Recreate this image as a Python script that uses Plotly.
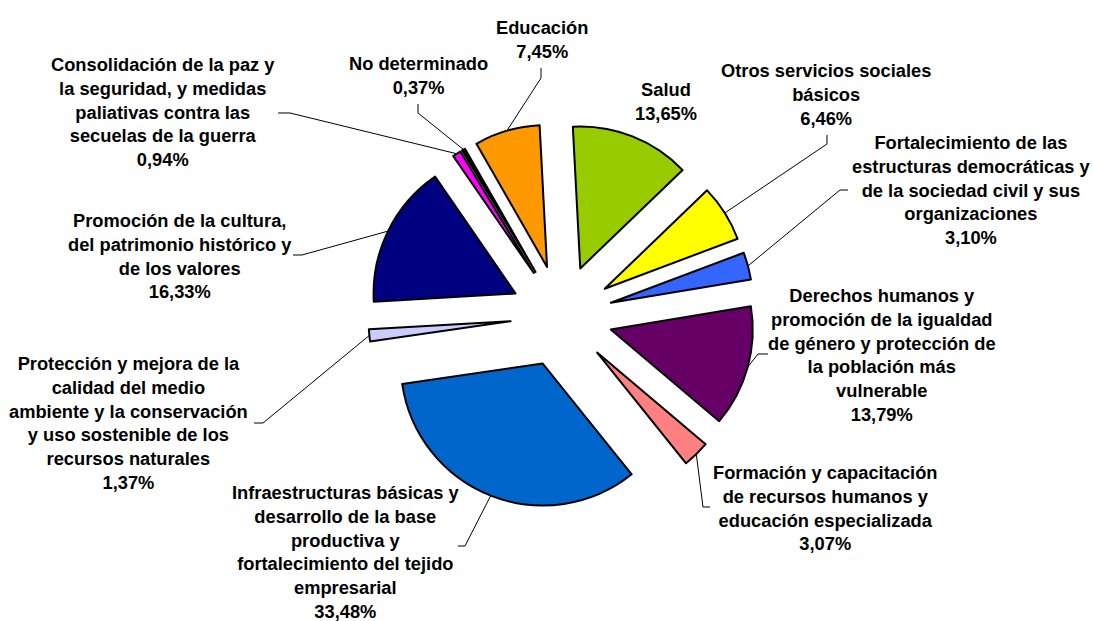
import math
import plotly.graph_objects as go

# ---------------- data ----------------
categories = [
    "Salud",
    "Otros servicios sociales básicos",
    "Fortalecimiento de las estructuras democráticas y de la sociedad civil y sus organizaciones",
    "Derechos humanos y promoción de la igualdad de género y protección de la población más vulnerable",
    "Formación y capacitación de recursos humanos y educación especializada",
    "Infraestructuras básicas y desarrollo de la base productiva y fortalecimiento del tejido empresarial",
    "Protección y mejora de la calidad del medio ambiente y la conservación y uso sostenible de los recursos naturales",
    "Promoción de la cultura, del patrimonio histórico y de los valores",
    "Consolidación de la paz y la seguridad, y medidas paliativas contra las secuelas de la guerra",
    "No determinado",
    "Educación",
]
values = [13.65, 6.46, 3.10, 13.79, 3.07, 33.48, 1.37, 16.33, 0.94, 0.37, 7.45]
label_lines = [
    ["Salud"],
    ["Otros servicios sociales", "básicos"],
    ["Fortalecimiento de las", "estructuras democráticas y", "de la sociedad civil y sus", "organizaciones"],
    ["Derechos humanos y", "promoción de la igualdad", "de género y protección de", "la población más", "vulnerable"],
    ["Formación y capacitación", "de recursos humanos y", "educación especializada"],
    ["Infraestructuras básicas y", "desarrollo de la base", "productiva y", "fortalecimiento del tejido", "empresarial"],
    ["Protección y mejora de la", "calidad del medio", "ambiente y la conservación", "y uso sostenible de los", "recursos naturales"],
    ["Promoción de la cultura,", "del patrimonio histórico y", "de los valores"],
    ["Consolidación de la paz y", "la seguridad, y medidas", "paliativas contra las", "secuelas de la guerra"],
    ["No determinado"],
    ["Educación"],
]
colors = ["#99CC00", "#FFFF00", "#3366FF", "#660066", "#FF8080", "#0066CC",
          "#CCCCFF", "#000080", "#FF00FF", "#000000", "#FF9900"]

# ---------------- layout / geometry ----------------
W, H = 1093, 621
PULL = 0.36
ROT = -3.0
dom_x = [0.2137, 0.8137]
dom_y = [0.1802, 0.8021]

# label centres (px) and leader-line label ends (px), per slice index
label_pos = {
    0: (666, 101), 1: (826, 94), 2: (971, 190), 3: (882, 355), 4: (825, 508),
    5: (345, 552), 6: (128, 423), 7: (180, 256), 8: (163, 112), 9: (418, 76), 10: (542, 40),
}
leader_tail = {
    1: [(827, 144), (827, 135)],
    2: [(840, 190), (848, 190)],
    3: [(758, 354), (768, 354)],
    4: [(703, 507), (710, 507)],
    5: [(465, 546), (458, 546)],
    6: [(263, 423), (254, 423)],
    7: [(302, 255), (293, 255)],
    8: [(290, 113), (278, 113)],
    9: [(418, 113), (418, 104)],
    10: [(541, 78), (541, 68)],
}

# plotly pie geometry
box_w = W * (dom_x[1] - dom_x[0])
box_h = H * (dom_y[1] - dom_y[0])
r = min(box_w / 2, box_h / 2) / (1 + PULL)
cx = W * (dom_x[0] + dom_x[1]) / 2
cy = H * (1 - dom_y[0]) - box_h / 2
total = sum(values)

def px2paper(p):
    return p[0] / W, 1 - p[1] / H

fig = go.Figure(go.Pie(
    labels=categories, values=values, sort=False, direction="clockwise",
    rotation=ROT, pull=[PULL] * len(values),
    marker=dict(colors=colors, line=dict(color="#000000", width=2)),
    textinfo="none", hoverinfo="label+percent", domain=dict(x=dom_x, y=dom_y),
    showlegend=False,
))

shapes = []
annotations = []
cum = 0.0
for i, v in enumerate(values):
    mid = math.radians(ROT + (cum + v / 2) / total * 360)
    cum += v
    head = (cx + r * (1 + PULL) * math.sin(mid), cy - r * (1 + PULL) * math.cos(mid))
    if i in leader_tail:
        pts = [head] + leader_tail[i]
        path = ""
        for k, p in enumerate(pts):
            x, y = px2paper(p)
            path += ("M" if k == 0 else " L") + f"{x:.5f},{y:.5f}"
        shapes.append(dict(type="path", path=path, xref="paper", yref="paper",
                           line=dict(color="#000000", width=1)))
    pct = f"{v:.2f}".replace(".", ",") + "%"
    text = "<br>".join(label_lines[i] + [pct])
    lx, ly = px2paper(label_pos[i])
    annotations.append(dict(
        x=lx, y=ly, xref="paper", yref="paper", text=text, showarrow=False,
        xanchor="center", yanchor="middle", align="center",
        font=dict(family="Liberation Sans, Arial, sans-serif", size=18.3,
                  color="#000000", weight="bold"),
    ))

fig.update_layout(
    width=W, height=H, margin=dict(l=0, r=0, t=0, b=0),
    paper_bgcolor="#FFFFFF", plot_bgcolor="#FFFFFF",
    shapes=shapes, annotations=annotations,
)
fig.write_html(
    "out.html",
    config={"displayModeBar": False},
    post_script="document.body.style.margin='0';document.body.style.padding='0';document.body.style.overflow='hidden';",
)
